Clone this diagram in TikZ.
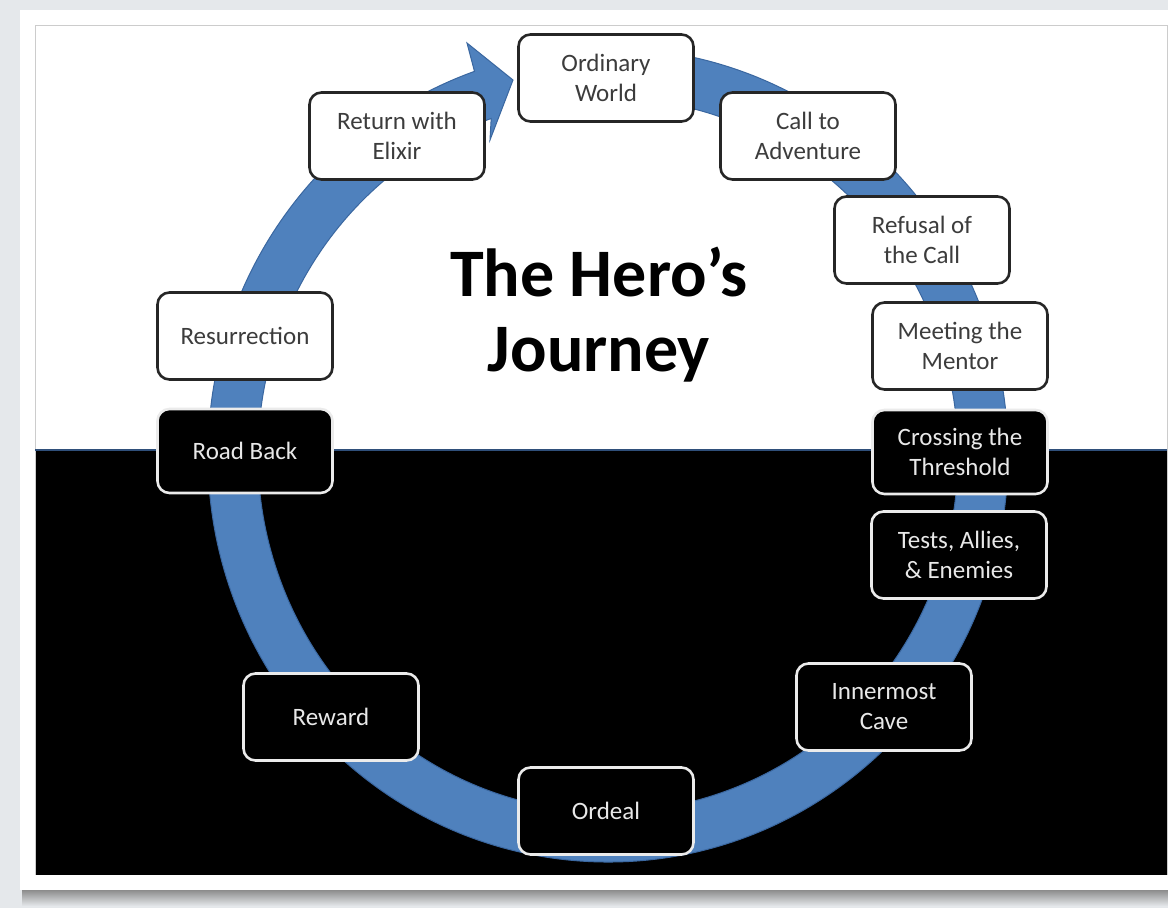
\documentclass[tikz,border=0pt]{standalone}
\usepackage{fontspec}
\setmainfont{Carlito}
\usetikzlibrary{calc}
\definecolor{bgc}{HTML}{E5E8EB}
\definecolor{ringblue}{HTML}{4F81BD}
\definecolor{ringedge}{HTML}{3A67A0}
\definecolor{boxline}{HTML}{262626}
\definecolor{darktext}{HTML}{3C3C3C}
\definecolor{lighttext}{HTML}{E8E8E8}
\definecolor{sepline}{HTML}{2F4F7A}
\begin{document}
\begin{tikzpicture}[x=1pt,y=-1pt,
  stage/.style={rectangle, rounded corners=12pt, minimum width=175pt, minimum height=87pt, inner sep=0pt, align=center, line width=2.6pt, font=\fontsize{25}{30}\selectfont},
  lightstage/.style={stage, fill=white, draw=boxline, text=darktext},
  darkstage/.style={stage, fill=black, draw=white!92!black, text=lighttext},
  titletext/.style={font=\bfseries\fontsize{68}{75}\selectfont, align=center, text=black, inner sep=0pt},
]
\useasboundingbox (0,0) rectangle (1168,908);
\fill[bgc] (0,0) rectangle (1168,908);
\shade[top color=black!45, bottom color=bgc] (22,890) rectangle (1168,906);
\fill[white] (20,10) rectangle (1168,890);
\fill[white] (35,25) rectangle (1167,450);
\fill[black] (35,450) rectangle (1167,875);
\draw[black!20, line width=1pt] (35,875) -- (35,25) -- (1167,25) -- (1167,875);
\draw[sepline, line width=1.5pt] (35,450) -- (1167,450);

\coordinate (c) at (608,455);
\filldraw[fill=ringblue, draw=ringedge, line width=1pt]
  ($(c)+(-85:400 and 407)$) arc[start angle=-85, end angle=250.5, x radius=400, y radius=407]
  -- (467,43) -- (513,80) -- (490,140) -- ($(c)+(250.5:350 and 357)$)
  arc[start angle=250.5, end angle=-85, x radius=350, y radius=357] -- cycle;

\node[titletext] (title) at (599,315) {The Hero’s\\Journey};

\node[lightstage] (ow) at (606,78) {Ordinary\\World};
\node[lightstage] (cta) at (808,136) {Call to\\Adventure};
\node[lightstage] (ref) at (922,240) {Refusal of\\the Call};
\node[lightstage] (men) at (960,346) {Meeting the\\Mentor};
\node[darkstage, minimum height=84pt] (thr) at (960,452) {Crossing the\\Threshold};
\node[darkstage] (tae) at (959,555) {Tests, Allies,\\\& Enemies};
\node[darkstage] (cave) at (884,707) {Innermost\\Cave};
\node[darkstage] (ord) at (606,811) {Ordeal};
\node[darkstage] (rew) at (331,717) {Reward};
\node[darkstage, minimum height=84pt] (rb) at (245,451) {Road Back};
\node[lightstage] (res) at (245,336) {Resurrection};
\node[lightstage] (rwe) at (397,136) {Return with\\Elixir};
\end{tikzpicture}
\end{document}
